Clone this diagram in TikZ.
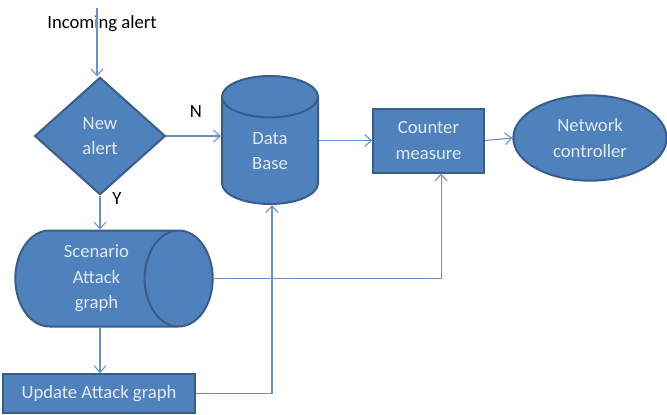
\documentclass[tikz,border=0pt]{standalone}
\usepackage{fontspec}
\setmainfont{Carlito}
\usetikzlibrary{shapes.geometric,arrows.meta}
\definecolor{boxfill}{RGB}{79,129,189}
\definecolor{boxline}{RGB}{56,93,138}
\definecolor{flowline}{RGB}{102,146,204}
\definecolor{boxtext}{RGB}{226,233,243}

\begin{document}
\begin{tikzpicture}[
  x=0.75pt, y=-0.75pt,
  block/.style={draw=boxline, fill=boxfill, line width=1.5pt, text=boxtext, align=center, inner sep=0pt},
  flow/.style={draw=flowline, line width=0.8pt, -{Straight Barb[length=5pt,width=9pt]}},
  font=\fontsize{14}{19}\selectfont
]
\useasboundingbox (0,0) rectangle (667,414);

% Blocks
\node[block, diamond, minimum width=98pt, minimum height=88pt] (alert) at (100,136) {New\\alert};
\node[block, cylinder, shape border rotate=90, aspect=1.16, minimum width=72pt, minimum height=96pt, anchor=shape center] (db) at (270,140) {Data\\Base};
\node[block, rectangle, minimum width=83pt, minimum height=48pt] (cm) at (428.5,140.5) {Counter\\measure};
\node[block, ellipse, minimum width=115pt, minimum height=64pt] (net) at (590,138) {Network\\controller};
\node[block, cylinder, aspect=1.02, minimum width=72pt, minimum height=148pt, anchor=shape center] (scen) at (114,278.5) {Scenario\\Attack\\graph};
\node[block, rectangle, minimum width=144pt, minimum height=29pt] (upd) at (99,393.5) {Update Attack graph};

% Labels
\node (inlabel) at (102,24) {Incoming alert};
\node (nlabel) at (196,112) {N};
\node (ylabel) at (117,199) {Y};
\coordinate (in) at (97,8);

% Arrows
\draw[flow] (in) -- (in |- alert.north);
\draw[flow] (alert.east) -- (alert.east -| db.west);
\draw[flow] (alert.south) -- (alert.south |- scen.north);
\draw[flow] (db.east |- cm.west) -- (cm.west);
\draw[flow] (cm.east) -- (net.west);
\draw[flow] (alert.south |- scen.south) -- (alert.south |- upd.north);

% Feedback lines
\draw[flow] (scen.east) -| ([xshift=9.4pt]cm.south);
\draw[flow] (upd.east) -| ([xshift=1.5pt]db.south);

\end{tikzpicture}
\end{document}
